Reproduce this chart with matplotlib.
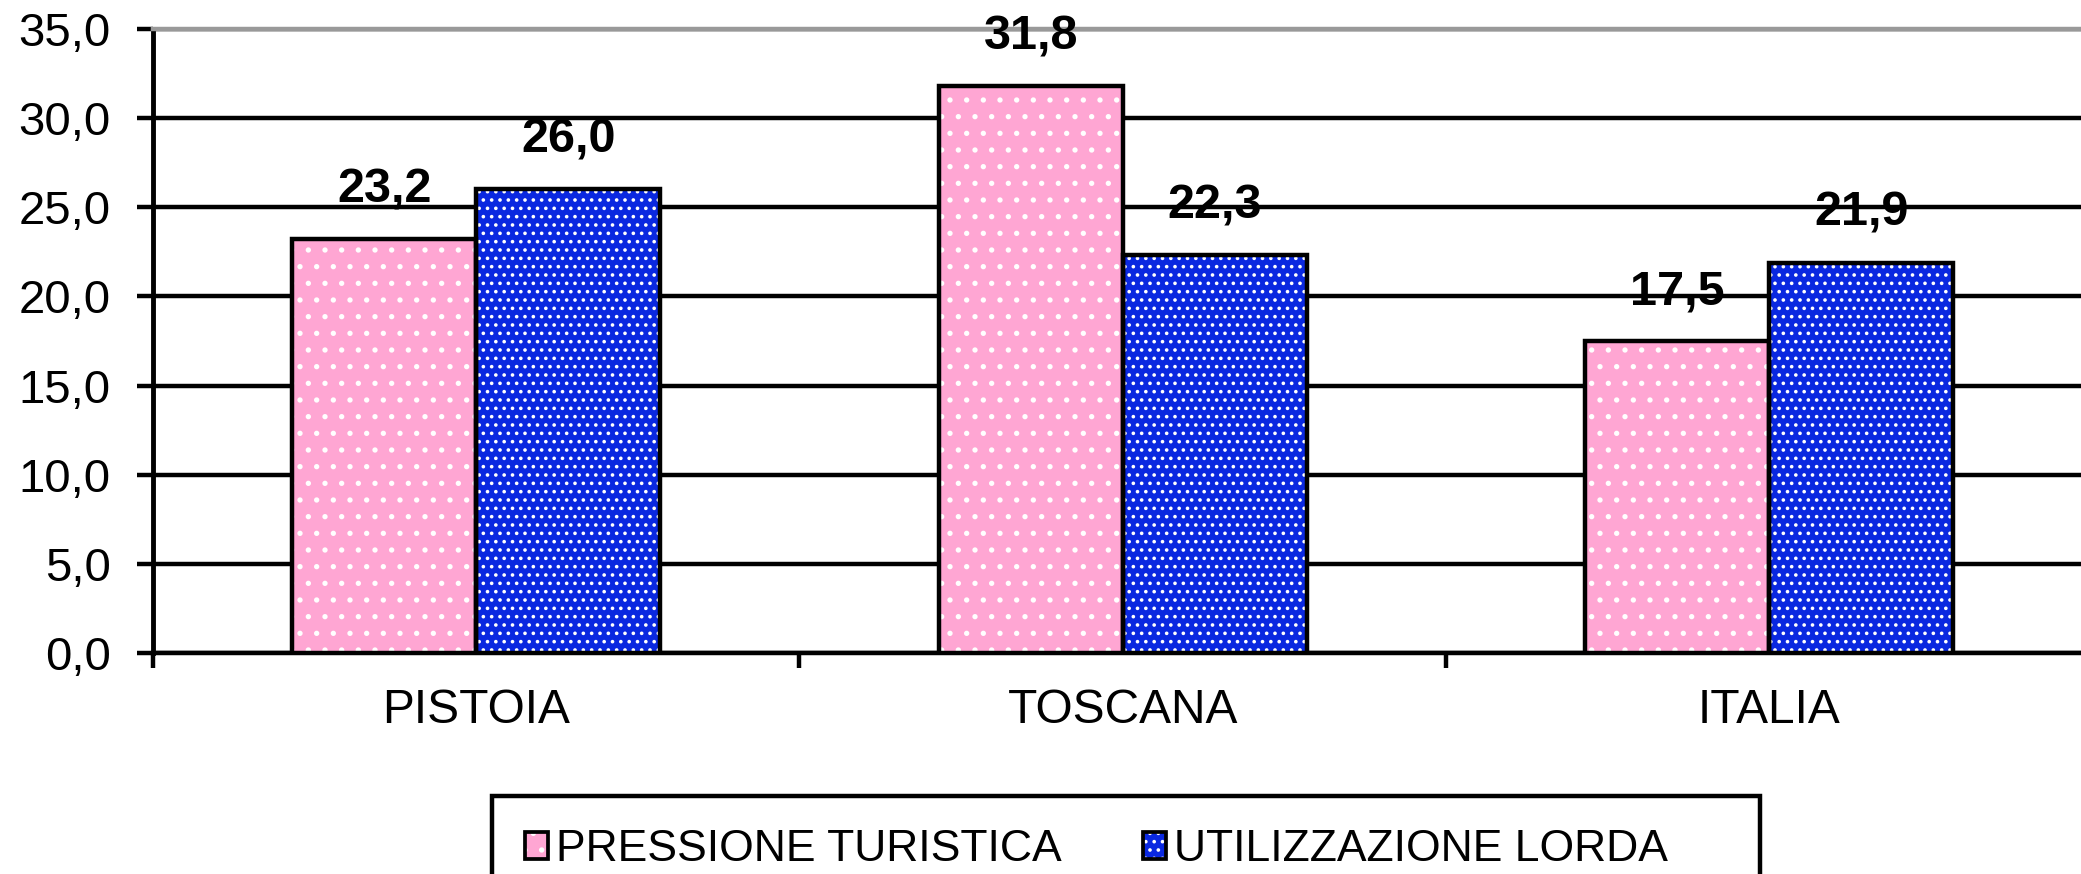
import matplotlib
matplotlib.use("Agg")
import matplotlib.pyplot as plt
from matplotlib.patches import Patch
import numpy as np

plt.rcParams['font.family'] = ['Liberation Sans', 'DejaVu Sans']
plt.rcParams['hatch.linewidth'] = 1.4

categories = ["PISTOIA", "TOSCANA", "ITALIA"]
pressione = [23.2, 31.8, 17.5]
utilizzazione = [26.0, 22.3, 21.9]
series_names = ["PRESSIONE TURISTICA", "UTILIZZAZIONE LORDA     "]
yticks = [0, 5, 10, 15, 20, 25, 30, 35]

pink = "#FFA6D3"
blue = "#0A28E0"
lw = 3.2

fig = plt.figure(figsize=(20.81, 8.74), dpi=100)
# axes runs slightly past the right edge, like the cropped original
ax = fig.add_axes([0.07352, 0.25286, 0.93200, 0.71396])

x = np.arange(len(categories))
w = 0.2846

for vals, off, col, hatch in [(pressione, -w / 2, pink, "."), (utilizzazione, w / 2, blue, "..")]:
    # fill + white dot pattern, then black outline on top
    ax.bar(x + off, vals, w, color=col, edgecolor="white", hatch=hatch, linewidth=0, zorder=3)
    ax.bar(x + off, vals, w, facecolor="none", edgecolor="black", linewidth=lw, zorder=3.2)
    for xi, v in zip(x + off, vals):
        ax.annotate(f"{v:.1f}".replace(".", ","), (xi, v), xytext=(0, 26.5),
                    textcoords="offset points", ha="center", va="baseline",
                    fontsize=35, fontweight="bold", zorder=5)

ax.set_xlim(-0.5, 2.5)
ax.set_ylim(0, 35)
ax.set_yticks(yticks)
ax.set_yticklabels([f"{t:.1f}".replace(".", ",") for t in yticks])

ax.set_xticks([-0.5, 0.5, 1.5, 2.5])
ax.set_xticklabels([])
ax.set_xticks(x, minor=True)
ax.set_xticklabels(categories, minor=True)
ax.tick_params(axis="x", which="major", direction="out", length=11, width=lw)
ax.tick_params(axis="x", which="minor", length=0, pad=25, labelsize=34.5)
ax.tick_params(axis="y", direction="out", length=11.5, width=lw, pad=19, labelsize=34)

ax.set_axisbelow(True)
ax.grid(axis="y", color="black", linewidth=lw)
ax.grid(axis="x", visible=False)

ax.spines["right"].set_visible(False)
ax.spines["top"].set_color("#999999")
ax.spines["top"].set_linewidth(lw)
ax.spines["left"].set_linewidth(3.5)
ax.spines["bottom"].set_linewidth(lw)

handles = []
for col, hatch in [(pink, "."), (blue, "..")]:
    h1 = Patch(facecolor=col, edgecolor="white", hatch=hatch, linewidth=0)
    h2 = Patch(facecolor="none", edgecolor="black", linewidth=2.7)
    handles.append((h1, h2))

leg = fig.legend(handles, series_names, loc="upper left",
                 bbox_to_anchor=(492 / 2081, 1 - 796 / 874), ncol=2,
                 fontsize=32, frameon=True, fancybox=False, framealpha=1,
                 borderpad=0.75, handlelength=0.5, handleheight=0.55,
                 handletextpad=0.18, columnspacing=1.85, borderaxespad=0)
leg.get_frame().set_edgecolor("black")
leg.get_frame().set_linewidth(lw)

fig.savefig("out.png", dpi=100)
